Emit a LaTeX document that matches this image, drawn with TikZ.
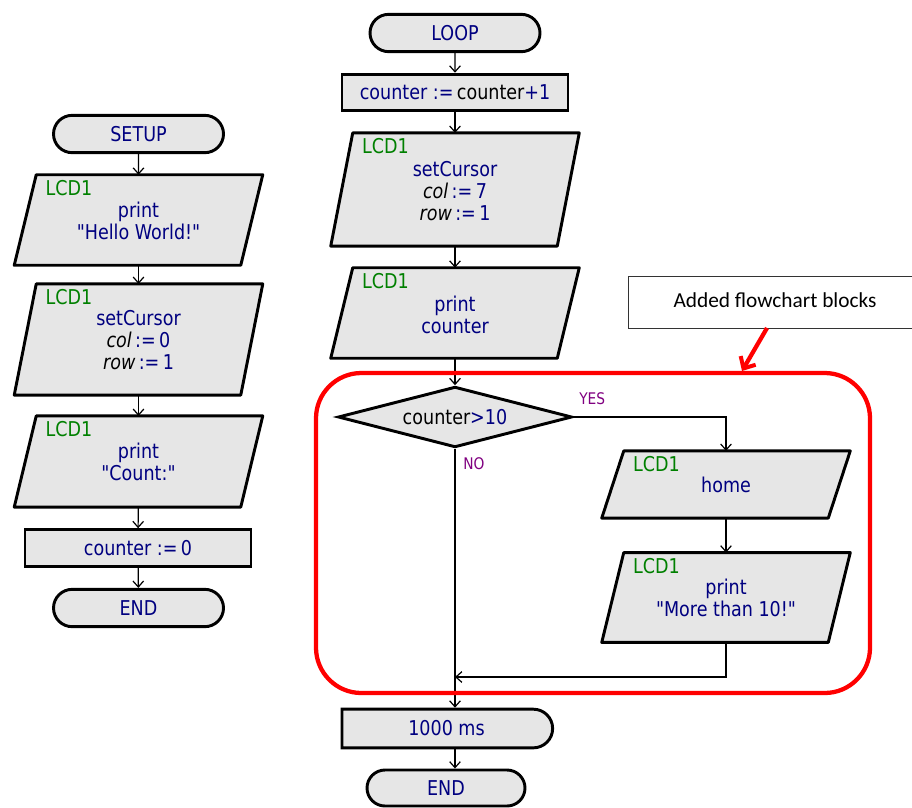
\documentclass[tikz,border=0pt]{standalone}
\usepackage{fontspec}
\setmainfont{DejaVu Sans}[FakeStretch=0.86, Ligatures=TeXOff]
\newfontfamily\annfont{Carlito}
\usetikzlibrary{arrows.meta,shapes.geometric,shapes.misc,calc}
\definecolor{boxgray}{HTML}{E6E6E6}
\definecolor{txtnavy}{HTML}{000080}
\definecolor{lcdgreen}{HTML}{008000}
\definecolor{lblpurple}{HTML}{800080}
\newcommand\iopath[1]{%
  \draw[boxline] ($(#1.north west)+(11,0)$) -- ($(#1.north east)+(11,0)$) -- ($(#1.south east)+(-11,0)$) -- ($(#1.south west)+(-11,0)$) -- cycle;}
\newcommand\lcdlabel[1]{%
  \node[lcdtxt, anchor=west] (#1lcd) at ($(#1.north west)+(20,13)$) {LCD1};}
\begin{document}
\begin{tikzpicture}[x=0.75pt,y=-0.75pt,
  txt/.style={font=\fontsize{15.3}{16.5}\selectfont, text=txtnavy, align=center},
  lcdtxt/.style={font=\fontsize{15.3}{16.5}\selectfont, text=lcdgreen, inner sep=0pt},
  lbl/.style={font=\fontsize{12}{13}\selectfont, text=lblpurple, inner sep=0pt},
  boxline/.style={draw=black, line width=2.2pt, fill=boxgray, line join=round},
  term/.style={txt, rounded rectangle, draw=black, line width=2.2pt, fill=boxgray, minimum width=127.5pt, minimum height=28pt, inner sep=0pt},
  proc/.style={txt, rectangle, draw=black, line width=2.2pt, fill=boxgray, minimum width=169.5pt, minimum height=27.5pt, inner sep=0pt},
  iob/.style={txt, rectangle, minimum width=169.5pt, inner sep=0pt},
  flow/.style={draw=black, line width=0.9pt, -{Straight Barb[length=4.5pt,width=8pt,line width=0.9pt]}},
  plain/.style={draw=black, line width=0.9pt}
]
\useasboundingbox (0,0) rectangle (912,807);

% ---------- SETUP column ----------
\node[term] (setup) at (138.5,134) {SETUP};
\node[iob, minimum height=67.5pt] (p1) at (138.5,220) {};
\iopath{p1}
\node[txt] (p1t) at (138.5,221) {print\\"Hello World!"};
\lcdlabel{p1}
\node[iob, minimum height=83pt] (p2) at (138.5,339.5) {};
\iopath{p2}
\node[txt] (p2t) at (138.5,340.5) {setCursor\\{\color{black}\itshape col}\,:=\,0\\{\color{black}\itshape row}\,:=\,1};
\lcdlabel{p2}
\node[iob, minimum height=68pt] (p3) at (138.5,461.5) {};
\iopath{p3}
\node[txt] (p3t) at (138.5,462) {print\\"Count:"};
\lcdlabel{p3}
\node[proc] (c0) at (138,548) {counter :=\,0};
\node[term] (end1) at (138.5,608) {END};

\draw[flow] (setup) -- (p1);
\draw[flow] (p1) -- (p2);
\draw[flow] (p2) -- (p3);
\draw[flow] (p3) -- (c0);
\draw[flow] (c0) -- (end1);

% ---------- LOOP column ----------
\node[term] (loop) at (455,33) {LOOP};
\node[proc] (inc) at (455,92.5) {counter :=\,{\color{black}counter}+1};
\node[iob, minimum height=84.5pt] (p4) at (455,189.5) {};
\iopath{p4}
\node[txt] (p4t) at (455,191) {setCursor\\{\color{black}\itshape col}\,:=\,7\\{\color{black}\itshape row}\,:=\,1};
\lcdlabel{p4}
\node[iob, minimum height=67.5pt] (p5) at (455,313) {};
\iopath{p5}
\node[txt] (p5t) at (455,314.5) {print\\counter};
\lcdlabel{p5}
\node[diamond, draw=black, line width=2.2pt, fill=boxgray, aspect=3.84, minimum width=175.5pt, minimum height=45.5pt, inner sep=0pt] (dec) at (455,417) {};
\node[txt] (dect) at (455,417) {{\color{black}counter}>10};
\node[iob, minimum height=50pt] (p6) at (726,484.5) {};
\iopath{p6}
\node[txt] (p6t) at (726,484.5) {home};
\lcdlabel{p6}
\node[iob, minimum height=67pt] (p7) at (726,597.5) {};
\iopath{p7}
\node[txt] (p7t) at (726,597.5) {print\\"More than 10!"};
\lcdlabel{p7}
\coordinate (join) at (455,677);
\node[txt, rounded rectangle, rounded rectangle left arc=none, draw=black, line width=2.2pt, fill=boxgray, minimum width=158pt, minimum height=29pt, inner sep=0pt] (delay) at (446.5,728.5) {1000 ms};
\node[term, minimum width=118.5pt, minimum height=27pt] (end2) at (446,788) {END};

\node[lbl, anchor=west] (yes) at (579,399) {YES};
\node[lbl, anchor=west] (no) at (463,464) {NO};

\draw[flow] (loop) -- (inc);
\draw[flow] (inc) -- (p4);
\draw[flow] (p4) -- (p5);
\draw[flow] (p5.south -| loop) -- (dec.north);
\draw[flow] (dec.east) -| (p6.north);
\draw[flow] (p6) -- (p7);
\draw[flow] (p7.south) |- (join);
\draw[flow] (dec.south) -- (dec.south |- delay.north);
\draw[flow] (delay.south -| loop) -- (end2.north -| loop);

% ---------- annotation ----------
\draw[red, line width=3.2pt, rounded corners=34pt] (316,373) rectangle (870,693);
\node[font=\annfont\fontsize{16}{18}\selectfont, inner sep=0pt] (ann) at (775,300) {Added flowchart blocks};
\draw[black!80, line width=0.7pt] (914,276) -- (628,276) -- (628,328) -- (914,328);
\coordinate (annfoot) at (767,328);
\coordinate (annhit) at (742,371);
\draw[red, line width=3.2pt, -{Straight Barb[length=7pt,width=13pt,line width=3pt]}] (annfoot) -- (annhit);
\end{tikzpicture}
\end{document}
